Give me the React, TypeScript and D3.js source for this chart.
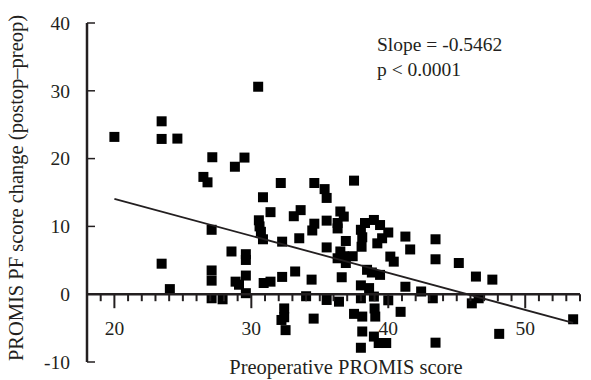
import React from "react";
import * as d3 from "d3";

const preop: number[] = [
  20.0, 23.45, 23.45, 24.6, 23.45, 24.05, 26.5, 26.8, 27.15, 27.1,
  27.1, 27.1, 27.1, 27.9, 28.55, 28.8, 29.5, 28.85, 29.1, 29.6,
  29.6, 29.6, 29.6, 30.5, 30.85, 30.55, 30.6, 30.7, 30.85, 30.9,
  31.4, 31.4, 32.15, 32.25, 32.25, 32.4, 32.4, 32.2, 32.5, 33.1,
  33.6, 33.2, 33.5, 34.0, 34.4, 34.55, 34.6, 35.35, 35.5, 34.6,
  34.45, 35.5, 35.5, 35.5, 36.4, 36.5, 36.75, 36.3, 36.3, 36.9,
  36.5, 36.75, 37.4, 36.3, 36.9, 36.6, 37.5, 38.0, 38.1, 38.3,
  38.05, 38.95, 39.4, 40.0, 39.55, 39.2, 41.25, 41.6, 40.15, 40.4,
  38.45, 38.8, 39.4, 38.0, 38.6, 41.25, 42.4, 38.0, 38.95, 40.0,
  43.25, 37.5, 38.1, 39.0, 39.05, 40.9, 38.1, 38.95, 39.3, 39.85,
  38.0, 43.45, 43.45, 45.15, 46.4, 47.6, 46.1, 46.6, 48.1, 53.5,
  43.45,
];

const change: number[] = [
  23.2, 25.5, 22.9, 22.95, 4.5, 0.75, 17.3, 16.5, 20.2, 9.5,
  3.5, 2.0, -0.6, -0.75, 6.3, 18.8, 20.15, 1.85, 1.4, 5.9,
  5.05, 2.75, 0.15, 30.6, 14.3, 10.9, 10.0, 9.2, 8.1, 1.65,
  1.85, 12.1, 16.4, 7.75, 2.55, -2.1, -3.4, -3.8, -5.3, 11.5,
  12.4, 3.35, 8.25, -0.3, 2.15, -3.6, 16.4, 15.5, 14.2, 10.4,
  9.4, 10.85, 6.9, -0.85, -1.1, 12.2, 11.45, 10.5, 9.7, 7.85,
  6.3, 5.6, 5.6, 5.3, 4.6, 2.5, 16.75, 9.5, 8.4, 10.5,
  7.0, 10.95, 10.2, 9.1, 8.25, 7.5, 8.5, 6.6, 5.55, 4.8,
  3.6, 3.2, 2.85, 1.3, 0.9, 1.1, 0.4, -0.6, -0.35, -0.9,
  -0.6, -2.9, -3.3, -2.1, -3.3, -2.6, -5.5, -6.25, -7.2, -7.2,
  -7.9, 8.1, 5.15, 4.6, 2.6, 2.15, -1.35, -0.6, -5.85, -3.7,
  -7.15,
];

const yTicks: number[] = [-10, 0, 10, 20, 30, 40];
const xTickLabels: number[] = [20, 30, 40, 50];
const xMinorTicks: number[] = d3.range(19, 55);

const slope = -0.5462;
const intercept = 25.0;
const fitRange: number[] = [20, 53.5];

const slopeText = "Slope = -0.5462";
const pText = "p < 0.0001";
const xTitle = "Preoperative PROMIS score";
const yTitle = "PROMIS PF score change (postop\u2013preop)";

export default function App() {
  const W = 591;
  const H = 380;
  const x = d3.scaleLinear().domain([18, 54]).range([87, 580]);
  const y = d3.scaleLinear().domain([-10, 40]).range([362, 23]);
  const ink = "#231f20";
  const font = "'Liberation Serif', 'Times New Roman', serif";
  const fs = 19.5;
  const sq = 10;

  const linePath = d3
    .line<number>()
    .x((d) => x(d))
    .y((d) => y(intercept + slope * d))(fitRange);

  return (
    <svg
      width={W}
      height={H}
      style={{ position: "absolute", left: 0, top: 0, background: "#fff" }}
      fontFamily={font}
    >
      <rect x={0} y={0} width={W} height={H} fill="#fff" />
      {/* points */}
      {preop.map((p, i) => (
        <rect
          key={i}
          x={x(p) - sq / 2}
          y={y(change[i]) - sq / 2}
          width={sq}
          height={sq}
          fill="#000"
        />
      ))}
      {/* regression line */}
      <path d={linePath || ""} stroke={ink} strokeWidth={1.8} fill="none" />
      {/* y axis */}
      <line x1={x(18)} x2={x(18)} y1={y(-10)} y2={y(40)} stroke={ink} strokeWidth={2.5} />
      {yTicks.map((t) => (
        <g key={"y" + t}>
          <line x1={x(18)} x2={x(18) + 8} y1={y(t)} y2={y(t)} stroke={ink} strokeWidth={1.5} />
          <text
            x={70}
            y={y(t)}
            dy="0.35em"
            textAnchor="end"
            fontSize={fs}
            fill={ink}
          >
            {t}
          </text>
        </g>
      ))}
      {/* x axis */}
      <line x1={x(18)} x2={x(54)} y1={y(0)} y2={y(0)} stroke={ink} strokeWidth={2.5} />
      {xMinorTicks.map((t) => (
        <line
          key={"xt" + t}
          x1={x(t)}
          x2={x(t)}
          y1={y(0)}
          y2={y(0) + (t % 10 === 0 ? 14 : 7)}
          stroke={ink}
          strokeWidth={2}
        />
      ))}
      {xTickLabels.map((t) => (
        <text
          key={"xl" + t}
          x={x(t)}
          y={335}
          textAnchor="middle"
          fontSize={fs}
          fill={ink}
        >
          {t}
        </text>
      ))}
      {/* titles */}
      <text x={346} y={374} textAnchor="middle" fontSize={20.5} fill={ink}>
        {xTitle}
      </text>
      <text
        transform={`translate(23, ${188}) rotate(-90)`}
        textAnchor="middle"
        fontSize={20.5}
        fill={ink}
      >
        {yTitle}
      </text>
      {/* annotation */}
      <text x={377} y={51} fontSize={fs} fill={ink}>
        {slopeText}
      </text>
      <text x={377} y={76} fontSize={fs} fill={ink}>
        {pText}
      </text>
    </svg>
  );
}
